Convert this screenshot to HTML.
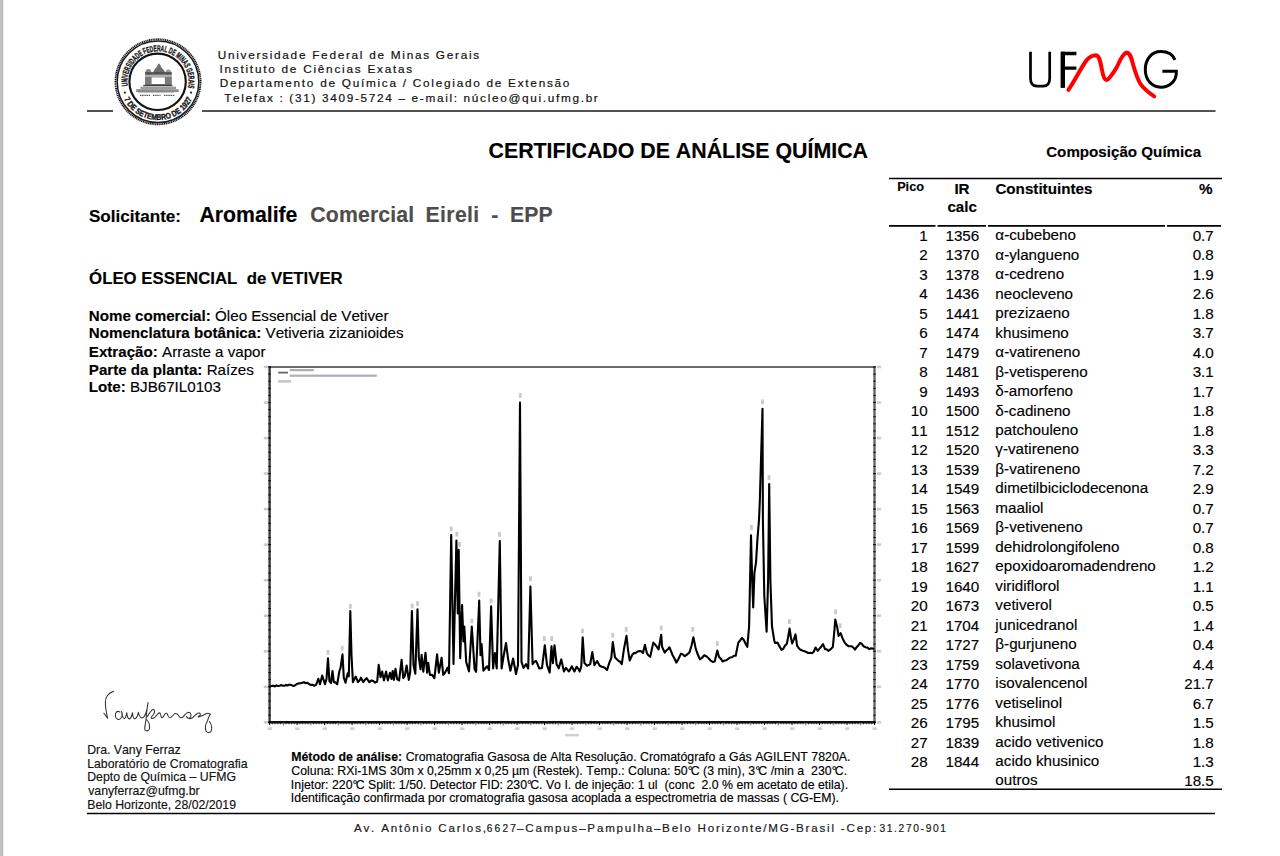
<!DOCTYPE html>
<html lang="pt"><head><meta charset="utf-8"><title>Certificado de Análise Química</title>
<style>
html,body{margin:0;padding:0;background:#fff;}
body{width:1280px;height:856px;overflow:hidden;position:relative;font-family:'Liberation Sans', sans-serif;color:#000;font-kerning:none;}
.t{position:absolute;white-space:pre;-webkit-text-stroke:0.15px currentColor;}
.l{position:absolute;}
.edge{position:absolute;left:0;top:0;width:3px;height:856px;background:linear-gradient(to right,#c1c1c1 0,#c1c1c1 2px,#b4b4b4 2px,#b4b4b4 3px);}
.edge2{position:absolute;left:3px;top:0;width:1px;height:856px;background:#f4f4f4;}
svg{position:absolute;left:0;top:0;}
</style></head><body>
<div class="edge"></div><div class="edge2"></div>
<svg width="1280" height="856" style="position:absolute;left:0;top:0"><line x1="87.00" y1="111.00" x2="113.00" y2="111.00" stroke="#1a1a1a" stroke-width="1.50"/><line x1="202.00" y1="111.00" x2="1215.50" y2="111.00" stroke="#1a1a1a" stroke-width="1.50"/><line x1="889.00" y1="178.60" x2="1222.00" y2="178.60" stroke="#000" stroke-width="1.50"/><line x1="889.00" y1="225.90" x2="935.50" y2="225.90" stroke="#000" stroke-width="1.60"/><line x1="937.50" y1="225.90" x2="986.00" y2="225.90" stroke="#000" stroke-width="1.60"/><line x1="988.00" y1="225.90" x2="1165.00" y2="225.90" stroke="#000" stroke-width="1.60"/><line x1="1167.00" y1="225.90" x2="1221.00" y2="225.90" stroke="#000" stroke-width="1.60"/><line x1="889.00" y1="789.20" x2="1222.00" y2="789.20" stroke="#000" stroke-width="1.50"/><line x1="87.00" y1="813.50" x2="1215.00" y2="813.50" stroke="#000" stroke-width="1.50"/></svg>
<div class="t" style="left:217.69px;top:50.00px;font-size:11.80px;line-height:11.80px;color:#111;letter-spacing:1.720px;-webkit-text-stroke:0.2px #111;">Universidade Federal de Minas Gerais</div>
<div class="t" style="left:219.51px;top:64.00px;font-size:11.80px;line-height:11.80px;color:#111;letter-spacing:1.745px;-webkit-text-stroke:0.2px #111;">Instituto de Ciências Exatas</div>
<div class="t" style="left:219.63px;top:78.00px;font-size:11.80px;line-height:11.80px;color:#111;letter-spacing:1.731px;-webkit-text-stroke:0.2px #111;">Departamento de Química / Colegiado de Extensão</div>
<div class="t" style="left:224.13px;top:93.00px;font-size:11.80px;line-height:11.80px;color:#111;letter-spacing:1.672px;-webkit-text-stroke:0.2px #111;">Telefax : (31) 3409-5724 – e-mail: núcleo@qui.ufmg.br</div>
<div class="t" style="left:488.52px;top:141.00px;font-size:21.35px;line-height:21.35px;font-weight:bold;">CERTIFICADO DE ANÁLISE QUÍMICA</div>
<div class="t" style="left:1046.18px;top:144.00px;font-size:15.16px;line-height:15.16px;font-weight:bold;">Composição Química</div>
<div class="t" style="left:88.91px;top:208.00px;font-size:17.10px;line-height:17.10px;font-weight:bold;">Solicitante:</div>
<div class="t" style="left:199.47px;top:205.00px;font-size:21.24px;line-height:21.24px;font-weight:bold;">Aromalife</div>
<div class="t" style="left:310.33px;top:205.00px;font-size:21.24px;line-height:21.24px;font-weight:bold;color:#4d4d4d;letter-spacing:0.146px;">Comercial</div>
<div class="t" style="left:425.58px;top:205.00px;font-size:21.24px;line-height:21.24px;font-weight:bold;color:#4d4d4d;letter-spacing:0.335px;">Eireli</div>
<div class="t" style="left:491.17px;top:205.00px;font-size:21.24px;line-height:21.24px;font-weight:bold;color:#4d4d4d;">-</div>
<div class="t" style="left:509.88px;top:205.00px;font-size:21.24px;line-height:21.24px;font-weight:bold;color:#4d4d4d;letter-spacing:0.123px;">EPP</div>
<div class="t" style="left:89.11px;top:271.00px;font-size:16.79px;line-height:16.79px;font-weight:bold;">ÓLEO ESSENCIAL  de VETIVER</div>
<div class="t" style="left:88.79px;top:308.00px;font-size:15.15px;line-height:15.15px;font-weight:bold;">Nome comercial:</div>
<div class="t" style="left:210.87px;top:308.00px;font-size:15.15px;line-height:15.15px;">&nbsp;Óleo&nbsp;Essencial&nbsp;de&nbsp;Vetiver</div>
<div class="t" style="left:88.79px;top:325.00px;font-size:15.15px;line-height:15.15px;font-weight:bold;">Nomenclatura botânica:</div>
<div class="t" style="left:261.36px;top:325.00px;font-size:15.15px;line-height:15.15px;">&nbsp;Vetiveria&nbsp;zizanioides</div>
<div class="t" style="left:88.79px;top:344.00px;font-size:15.15px;line-height:15.15px;font-weight:bold;">Extração:</div>
<div class="t" style="left:157.83px;top:344.00px;font-size:15.15px;line-height:15.15px;">&nbsp;Arraste&nbsp;a&nbsp;vapor</div>
<div class="t" style="left:88.79px;top:362.00px;font-size:15.15px;line-height:15.15px;font-weight:bold;">Parte da planta:</div>
<div class="t" style="left:202.44px;top:362.00px;font-size:15.15px;line-height:15.15px;">&nbsp;Raízes</div>
<div class="t" style="left:88.79px;top:379.00px;font-size:15.15px;line-height:15.15px;font-weight:bold;">Lote:</div>
<div class="t" style="left:125.81px;top:379.00px;font-size:15.15px;line-height:15.15px;">&nbsp;BJB67IL0103</div>
<div class="t" style="left:897.15px;top:181.00px;font-size:12.71px;line-height:12.71px;font-weight:bold;">Pico</div>
<div class="t" style="left:954.38px;top:181.00px;font-size:15.20px;line-height:15.20px;font-weight:bold;">IR</div>
<div class="t" style="left:947.41px;top:199.00px;font-size:15.20px;line-height:15.20px;font-weight:bold;">calc</div>
<div class="t" style="left:995.38px;top:181.00px;font-size:15.20px;line-height:15.20px;font-weight:bold;">Constituintes</div>
<div class="t" style="left:1199.09px;top:181.00px;font-size:15.20px;line-height:15.20px;font-weight:bold;">%</div>
<div class="t" style="left:927.74px;width:0;top:228.00px;font-size:15.20px;line-height:15.20px;direction:rtl;">1</div>
<div class="t" style="left:945.44px;top:228.00px;font-size:15.20px;line-height:15.20px;">1356</div>
<div class="t" style="left:995.36px;top:227.00px;font-size:15.20px;line-height:15.20px;">α-cubebeno</div>
<div class="t" style="left:1213.76px;width:0;top:228.00px;font-size:15.20px;line-height:15.20px;direction:rtl;">0.7</div>
<div class="t" style="left:927.74px;width:0;top:247.00px;font-size:15.20px;line-height:15.20px;direction:rtl;">2</div>
<div class="t" style="left:945.44px;top:247.00px;font-size:15.20px;line-height:15.20px;">1370</div>
<div class="t" style="left:995.36px;top:247.00px;font-size:15.20px;line-height:15.20px;">α-ylangueno</div>
<div class="t" style="left:1213.76px;width:0;top:247.00px;font-size:15.20px;line-height:15.20px;direction:rtl;">0.8</div>
<div class="t" style="left:927.74px;width:0;top:267.00px;font-size:15.20px;line-height:15.20px;direction:rtl;">3</div>
<div class="t" style="left:945.44px;top:267.00px;font-size:15.20px;line-height:15.20px;">1378</div>
<div class="t" style="left:995.36px;top:266.00px;font-size:15.20px;line-height:15.20px;">α-cedreno</div>
<div class="t" style="left:1213.76px;width:0;top:267.00px;font-size:15.20px;line-height:15.20px;direction:rtl;">1.9</div>
<div class="t" style="left:927.74px;width:0;top:286.00px;font-size:15.20px;line-height:15.20px;direction:rtl;">4</div>
<div class="t" style="left:945.44px;top:286.00px;font-size:15.20px;line-height:15.20px;">1436</div>
<div class="t" style="left:995.36px;top:286.00px;font-size:15.20px;line-height:15.20px;">neocleveno</div>
<div class="t" style="left:1213.76px;width:0;top:286.00px;font-size:15.20px;line-height:15.20px;direction:rtl;">2.6</div>
<div class="t" style="left:927.74px;width:0;top:306.00px;font-size:15.20px;line-height:15.20px;direction:rtl;">5</div>
<div class="t" style="left:945.44px;top:306.00px;font-size:15.20px;line-height:15.20px;">1441</div>
<div class="t" style="left:995.36px;top:305.00px;font-size:15.20px;line-height:15.20px;">prezizaeno</div>
<div class="t" style="left:1213.76px;width:0;top:306.00px;font-size:15.20px;line-height:15.20px;direction:rtl;">1.8</div>
<div class="t" style="left:927.74px;width:0;top:325.00px;font-size:15.20px;line-height:15.20px;direction:rtl;">6</div>
<div class="t" style="left:945.44px;top:325.00px;font-size:15.20px;line-height:15.20px;">1474</div>
<div class="t" style="left:995.36px;top:325.00px;font-size:15.20px;line-height:15.20px;">khusimeno</div>
<div class="t" style="left:1213.76px;width:0;top:325.00px;font-size:15.20px;line-height:15.20px;direction:rtl;">3.7</div>
<div class="t" style="left:927.74px;width:0;top:345.00px;font-size:15.20px;line-height:15.20px;direction:rtl;">7</div>
<div class="t" style="left:945.44px;top:345.00px;font-size:15.20px;line-height:15.20px;">1479</div>
<div class="t" style="left:995.36px;top:344.00px;font-size:15.20px;line-height:15.20px;">α-vatireneno</div>
<div class="t" style="left:1213.76px;width:0;top:345.00px;font-size:15.20px;line-height:15.20px;direction:rtl;">4.0</div>
<div class="t" style="left:927.74px;width:0;top:364.00px;font-size:15.20px;line-height:15.20px;direction:rtl;">8</div>
<div class="t" style="left:945.44px;top:364.00px;font-size:15.20px;line-height:15.20px;">1481</div>
<div class="t" style="left:995.36px;top:364.00px;font-size:15.20px;line-height:15.20px;">β-vetispereno</div>
<div class="t" style="left:1213.76px;width:0;top:364.00px;font-size:15.20px;line-height:15.20px;direction:rtl;">3.1</div>
<div class="t" style="left:927.74px;width:0;top:384.00px;font-size:15.20px;line-height:15.20px;direction:rtl;">9</div>
<div class="t" style="left:945.44px;top:384.00px;font-size:15.20px;line-height:15.20px;">1493</div>
<div class="t" style="left:995.36px;top:383.00px;font-size:15.20px;line-height:15.20px;">δ-amorfeno</div>
<div class="t" style="left:1213.76px;width:0;top:384.00px;font-size:15.20px;line-height:15.20px;direction:rtl;">1.7</div>
<div class="t" style="left:927.74px;width:0;top:403.00px;font-size:15.20px;line-height:15.20px;direction:rtl;">10</div>
<div class="t" style="left:945.44px;top:403.00px;font-size:15.20px;line-height:15.20px;">1500</div>
<div class="t" style="left:995.36px;top:403.00px;font-size:15.20px;line-height:15.20px;">δ-cadineno</div>
<div class="t" style="left:1213.76px;width:0;top:403.00px;font-size:15.20px;line-height:15.20px;direction:rtl;">1.8</div>
<div class="t" style="left:927.74px;width:0;top:423.00px;font-size:15.20px;line-height:15.20px;direction:rtl;">11</div>
<div class="t" style="left:945.44px;top:423.00px;font-size:15.20px;line-height:15.20px;">1512</div>
<div class="t" style="left:995.36px;top:422.00px;font-size:15.20px;line-height:15.20px;">patchouleno</div>
<div class="t" style="left:1213.76px;width:0;top:423.00px;font-size:15.20px;line-height:15.20px;direction:rtl;">1.8</div>
<div class="t" style="left:927.74px;width:0;top:442.00px;font-size:15.20px;line-height:15.20px;direction:rtl;">12</div>
<div class="t" style="left:945.44px;top:442.00px;font-size:15.20px;line-height:15.20px;">1520</div>
<div class="t" style="left:995.36px;top:441.00px;font-size:15.20px;line-height:15.20px;">γ-vatireneno</div>
<div class="t" style="left:1213.76px;width:0;top:442.00px;font-size:15.20px;line-height:15.20px;direction:rtl;">3.3</div>
<div class="t" style="left:927.74px;width:0;top:462.00px;font-size:15.20px;line-height:15.20px;direction:rtl;">13</div>
<div class="t" style="left:945.44px;top:462.00px;font-size:15.20px;line-height:15.20px;">1539</div>
<div class="t" style="left:995.36px;top:461.00px;font-size:15.20px;line-height:15.20px;">β-vatireneno</div>
<div class="t" style="left:1213.76px;width:0;top:462.00px;font-size:15.20px;line-height:15.20px;direction:rtl;">7.2</div>
<div class="t" style="left:927.74px;width:0;top:481.00px;font-size:15.20px;line-height:15.20px;direction:rtl;">14</div>
<div class="t" style="left:945.44px;top:481.00px;font-size:15.20px;line-height:15.20px;">1549</div>
<div class="t" style="left:995.36px;top:480.00px;font-size:15.20px;line-height:15.20px;">dimetilbiciclodecenona</div>
<div class="t" style="left:1213.76px;width:0;top:481.00px;font-size:15.20px;line-height:15.20px;direction:rtl;">2.9</div>
<div class="t" style="left:927.74px;width:0;top:501.00px;font-size:15.20px;line-height:15.20px;direction:rtl;">15</div>
<div class="t" style="left:945.44px;top:501.00px;font-size:15.20px;line-height:15.20px;">1563</div>
<div class="t" style="left:995.36px;top:500.00px;font-size:15.20px;line-height:15.20px;">maaliol</div>
<div class="t" style="left:1213.76px;width:0;top:501.00px;font-size:15.20px;line-height:15.20px;direction:rtl;">0.7</div>
<div class="t" style="left:927.74px;width:0;top:520.00px;font-size:15.20px;line-height:15.20px;direction:rtl;">16</div>
<div class="t" style="left:945.44px;top:520.00px;font-size:15.20px;line-height:15.20px;">1569</div>
<div class="t" style="left:995.36px;top:519.00px;font-size:15.20px;line-height:15.20px;">β-vetiveneno</div>
<div class="t" style="left:1213.76px;width:0;top:520.00px;font-size:15.20px;line-height:15.20px;direction:rtl;">0.7</div>
<div class="t" style="left:927.74px;width:0;top:540.00px;font-size:15.20px;line-height:15.20px;direction:rtl;">17</div>
<div class="t" style="left:945.44px;top:540.00px;font-size:15.20px;line-height:15.20px;">1599</div>
<div class="t" style="left:995.36px;top:539.00px;font-size:15.20px;line-height:15.20px;">dehidrolongifoleno</div>
<div class="t" style="left:1213.76px;width:0;top:540.00px;font-size:15.20px;line-height:15.20px;direction:rtl;">0.8</div>
<div class="t" style="left:927.74px;width:0;top:559.00px;font-size:15.20px;line-height:15.20px;direction:rtl;">18</div>
<div class="t" style="left:945.44px;top:559.00px;font-size:15.20px;line-height:15.20px;">1627</div>
<div class="t" style="left:995.36px;top:558.00px;font-size:15.20px;line-height:15.20px;">epoxidoaromadendreno</div>
<div class="t" style="left:1213.76px;width:0;top:559.00px;font-size:15.20px;line-height:15.20px;direction:rtl;">1.2</div>
<div class="t" style="left:927.74px;width:0;top:579.00px;font-size:15.20px;line-height:15.20px;direction:rtl;">19</div>
<div class="t" style="left:945.44px;top:579.00px;font-size:15.20px;line-height:15.20px;">1640</div>
<div class="t" style="left:995.36px;top:578.00px;font-size:15.20px;line-height:15.20px;">viridiflorol</div>
<div class="t" style="left:1213.76px;width:0;top:579.00px;font-size:15.20px;line-height:15.20px;direction:rtl;">1.1</div>
<div class="t" style="left:927.74px;width:0;top:598.00px;font-size:15.20px;line-height:15.20px;direction:rtl;">20</div>
<div class="t" style="left:945.44px;top:598.00px;font-size:15.20px;line-height:15.20px;">1673</div>
<div class="t" style="left:995.36px;top:597.00px;font-size:15.20px;line-height:15.20px;">vetiverol</div>
<div class="t" style="left:1213.76px;width:0;top:598.00px;font-size:15.20px;line-height:15.20px;direction:rtl;">0.5</div>
<div class="t" style="left:927.74px;width:0;top:618.00px;font-size:15.20px;line-height:15.20px;direction:rtl;">21</div>
<div class="t" style="left:945.44px;top:618.00px;font-size:15.20px;line-height:15.20px;">1704</div>
<div class="t" style="left:995.36px;top:617.00px;font-size:15.20px;line-height:15.20px;">junicedranol</div>
<div class="t" style="left:1213.76px;width:0;top:618.00px;font-size:15.20px;line-height:15.20px;direction:rtl;">1.4</div>
<div class="t" style="left:927.74px;width:0;top:637.00px;font-size:15.20px;line-height:15.20px;direction:rtl;">22</div>
<div class="t" style="left:945.44px;top:637.00px;font-size:15.20px;line-height:15.20px;">1727</div>
<div class="t" style="left:995.36px;top:636.00px;font-size:15.20px;line-height:15.20px;">β-gurjuneno</div>
<div class="t" style="left:1213.76px;width:0;top:637.00px;font-size:15.20px;line-height:15.20px;direction:rtl;">0.4</div>
<div class="t" style="left:927.74px;width:0;top:657.00px;font-size:15.20px;line-height:15.20px;direction:rtl;">23</div>
<div class="t" style="left:945.44px;top:657.00px;font-size:15.20px;line-height:15.20px;">1759</div>
<div class="t" style="left:995.36px;top:656.00px;font-size:15.20px;line-height:15.20px;">solavetivona</div>
<div class="t" style="left:1213.76px;width:0;top:657.00px;font-size:15.20px;line-height:15.20px;direction:rtl;">4.4</div>
<div class="t" style="left:927.74px;width:0;top:676.00px;font-size:15.20px;line-height:15.20px;direction:rtl;">24</div>
<div class="t" style="left:945.44px;top:676.00px;font-size:15.20px;line-height:15.20px;">1770</div>
<div class="t" style="left:995.36px;top:675.00px;font-size:15.20px;line-height:15.20px;">isovalencenol</div>
<div class="t" style="left:1213.76px;width:0;top:676.00px;font-size:15.20px;line-height:15.20px;direction:rtl;">21.7</div>
<div class="t" style="left:927.74px;width:0;top:696.00px;font-size:15.20px;line-height:15.20px;direction:rtl;">25</div>
<div class="t" style="left:945.44px;top:696.00px;font-size:15.20px;line-height:15.20px;">1776</div>
<div class="t" style="left:995.36px;top:695.00px;font-size:15.20px;line-height:15.20px;">vetiselinol</div>
<div class="t" style="left:1213.76px;width:0;top:696.00px;font-size:15.20px;line-height:15.20px;direction:rtl;">6.7</div>
<div class="t" style="left:927.74px;width:0;top:715.00px;font-size:15.20px;line-height:15.20px;direction:rtl;">26</div>
<div class="t" style="left:945.44px;top:715.00px;font-size:15.20px;line-height:15.20px;">1795</div>
<div class="t" style="left:995.36px;top:714.00px;font-size:15.20px;line-height:15.20px;">khusimol</div>
<div class="t" style="left:1213.76px;width:0;top:715.00px;font-size:15.20px;line-height:15.20px;direction:rtl;">1.5</div>
<div class="t" style="left:927.74px;width:0;top:735.00px;font-size:15.20px;line-height:15.20px;direction:rtl;">27</div>
<div class="t" style="left:945.44px;top:735.00px;font-size:15.20px;line-height:15.20px;">1839</div>
<div class="t" style="left:995.36px;top:734.00px;font-size:15.20px;line-height:15.20px;">acido vetivenico</div>
<div class="t" style="left:1213.76px;width:0;top:735.00px;font-size:15.20px;line-height:15.20px;direction:rtl;">1.8</div>
<div class="t" style="left:927.74px;width:0;top:754.00px;font-size:15.20px;line-height:15.20px;direction:rtl;">28</div>
<div class="t" style="left:945.44px;top:754.00px;font-size:15.20px;line-height:15.20px;">1844</div>
<div class="t" style="left:995.36px;top:753.00px;font-size:15.20px;line-height:15.20px;">acido khusinico</div>
<div class="t" style="left:1213.76px;width:0;top:754.00px;font-size:15.20px;line-height:15.20px;direction:rtl;">1.3</div>
<div class="t" style="left:995.36px;top:772.00px;font-size:15.20px;line-height:15.20px;">outros</div>
<div class="t" style="left:1213.76px;width:0;top:773.00px;font-size:15.20px;line-height:15.20px;direction:rtl;">18.5</div>
<div class="t" style="left:87.19px;top:744.00px;font-size:12.29px;line-height:12.29px;color:#111;">Dra. Vany Ferraz</div>
<div class="t" style="left:87.19px;top:758.00px;font-size:12.29px;line-height:12.29px;color:#111;">Laboratório de Cromatografia</div>
<div class="t" style="left:87.19px;top:771.00px;font-size:12.29px;line-height:12.29px;color:#111;">Depto de Química – UFMG</div>
<div class="t" style="left:88.16px;top:785.00px;font-size:12.29px;line-height:12.29px;color:#111;">vanyferraz@ufmg.br</div>
<div class="t" style="left:87.19px;top:799.00px;font-size:12.29px;line-height:12.29px;color:#111;">Belo Horizonte, 28/02/2019</div>
<div class="t" style="left:291.17px;top:751.00px;font-size:12.34px;line-height:12.34px;font-weight:bold;">Método de análise:</div>
<div class="t" style="left:402.25px;top:751.00px;font-size:12.34px;line-height:12.34px;">&nbsp;Cromatografia&nbsp;Gasosa&nbsp;de&nbsp;Alta&nbsp;Resolução.&nbsp;Cromatógrafo&nbsp;a&nbsp;Gás&nbsp;AGILENT&nbsp;7820A.</div>
<div class="t" style="left:291.37px;top:765.00px;font-size:12.34px;line-height:12.34px;">Coluna: RXi-1MS 30m x 0,25mm x 0,25 µm (Restek). Temp.: Coluna: 50<span style="letter-spacing:-1.8px">°</span>C (3 min), 3<span style="letter-spacing:-1.8px">°</span>C /min a  230<span style="letter-spacing:-1.8px">°</span>C.</div>
<div class="t" style="left:290.86px;top:779.00px;font-size:12.34px;line-height:12.34px;">Injetor: 220<span style="letter-spacing:-1.8px">°</span>C Split: 1/50. Detector FID: 230<span style="letter-spacing:-1.8px">°</span>C. Vo I. de injeção: 1 ul  (conc  2.0 % em acetato de etila).</div>
<div class="t" style="left:290.86px;top:792.00px;font-size:12.34px;line-height:12.34px;">Identificação confirmada por cromatografia gasosa acoplada a espectrometria de massas ( CG-EM).</div>
<div class="t" style="left:353.88px;top:822.00px;font-size:11.60px;line-height:11.60px;color:#1a1a1a;letter-spacing:1.826px;-webkit-text-stroke:0.2px #1a1a1a;">Av. Antônio Carlos,</div>
<div class="t" style="left:486.78px;top:824.00px;font-size:10.20px;line-height:10.20px;color:#1a1a1a;letter-spacing:2.180px;-webkit-text-stroke:0.2px #1a1a1a;">6627</div>
<div class="t" style="left:517.00px;top:822.00px;font-size:11.60px;line-height:11.60px;color:#1a1a1a;letter-spacing:1.788px;-webkit-text-stroke:0.2px #1a1a1a;">–Campus–Pampulha–Belo Horizonte/MG-Brasil -Cep:</div>
<div class="t" style="left:879.41px;top:824.00px;font-size:10.20px;line-height:10.20px;color:#1a1a1a;letter-spacing:1.675px;-webkit-text-stroke:0.2px #1a1a1a;">31.270-901</div>
<svg width="1280" height="856" viewBox="0 0 1280 856" style="position:absolute;left:0;top:0">
<line x1="269.60" y1="367.00" x2="874.50" y2="367.00" stroke="#6b6b6b" stroke-width="2.2"/>
<line x1="269.60" y1="366.00" x2="269.60" y2="723.30" stroke="#3a3a3a" stroke-width="2.4"/>
<line x1="874.50" y1="366.00" x2="874.50" y2="723.30" stroke="#666" stroke-width="2.4"/>
<line x1="268.60" y1="722.30" x2="875.50" y2="722.30" stroke="#111" stroke-width="2.5"/>
<line x1="268.30" y1="722.30" x2="270.90" y2="722.30" stroke="#000" stroke-width="1.2"/>
<line x1="873.20" y1="722.30" x2="875.80" y2="722.30" stroke="#000" stroke-width="1.2"/>
<line x1="268.30" y1="715.19" x2="270.90" y2="715.19" stroke="#000" stroke-width="0.9"/>
<line x1="873.20" y1="715.19" x2="875.80" y2="715.19" stroke="#000" stroke-width="0.9"/>
<line x1="268.30" y1="708.09" x2="270.90" y2="708.09" stroke="#000" stroke-width="0.9"/>
<line x1="873.20" y1="708.09" x2="875.80" y2="708.09" stroke="#000" stroke-width="0.9"/>
<line x1="268.30" y1="700.98" x2="270.90" y2="700.98" stroke="#000" stroke-width="0.9"/>
<line x1="873.20" y1="700.98" x2="875.80" y2="700.98" stroke="#000" stroke-width="0.9"/>
<line x1="268.30" y1="693.88" x2="270.90" y2="693.88" stroke="#000" stroke-width="0.9"/>
<line x1="873.20" y1="693.88" x2="875.80" y2="693.88" stroke="#000" stroke-width="0.9"/>
<line x1="268.30" y1="686.77" x2="270.90" y2="686.77" stroke="#000" stroke-width="1.2"/>
<line x1="873.20" y1="686.77" x2="875.80" y2="686.77" stroke="#000" stroke-width="1.2"/>
<line x1="268.30" y1="679.66" x2="270.90" y2="679.66" stroke="#000" stroke-width="0.9"/>
<line x1="873.20" y1="679.66" x2="875.80" y2="679.66" stroke="#000" stroke-width="0.9"/>
<line x1="268.30" y1="672.56" x2="270.90" y2="672.56" stroke="#000" stroke-width="0.9"/>
<line x1="873.20" y1="672.56" x2="875.80" y2="672.56" stroke="#000" stroke-width="0.9"/>
<line x1="268.30" y1="665.45" x2="270.90" y2="665.45" stroke="#000" stroke-width="0.9"/>
<line x1="873.20" y1="665.45" x2="875.80" y2="665.45" stroke="#000" stroke-width="0.9"/>
<line x1="268.30" y1="658.35" x2="270.90" y2="658.35" stroke="#000" stroke-width="0.9"/>
<line x1="873.20" y1="658.35" x2="875.80" y2="658.35" stroke="#000" stroke-width="0.9"/>
<line x1="268.30" y1="651.24" x2="270.90" y2="651.24" stroke="#000" stroke-width="1.2"/>
<line x1="873.20" y1="651.24" x2="875.80" y2="651.24" stroke="#000" stroke-width="1.2"/>
<line x1="268.30" y1="644.13" x2="270.90" y2="644.13" stroke="#000" stroke-width="0.9"/>
<line x1="873.20" y1="644.13" x2="875.80" y2="644.13" stroke="#000" stroke-width="0.9"/>
<line x1="268.30" y1="637.03" x2="270.90" y2="637.03" stroke="#000" stroke-width="0.9"/>
<line x1="873.20" y1="637.03" x2="875.80" y2="637.03" stroke="#000" stroke-width="0.9"/>
<line x1="268.30" y1="629.92" x2="270.90" y2="629.92" stroke="#000" stroke-width="0.9"/>
<line x1="873.20" y1="629.92" x2="875.80" y2="629.92" stroke="#000" stroke-width="0.9"/>
<line x1="268.30" y1="622.82" x2="270.90" y2="622.82" stroke="#000" stroke-width="0.9"/>
<line x1="873.20" y1="622.82" x2="875.80" y2="622.82" stroke="#000" stroke-width="0.9"/>
<line x1="268.30" y1="615.71" x2="270.90" y2="615.71" stroke="#000" stroke-width="1.2"/>
<line x1="873.20" y1="615.71" x2="875.80" y2="615.71" stroke="#000" stroke-width="1.2"/>
<line x1="268.30" y1="608.60" x2="270.90" y2="608.60" stroke="#000" stroke-width="0.9"/>
<line x1="873.20" y1="608.60" x2="875.80" y2="608.60" stroke="#000" stroke-width="0.9"/>
<line x1="268.30" y1="601.50" x2="270.90" y2="601.50" stroke="#000" stroke-width="0.9"/>
<line x1="873.20" y1="601.50" x2="875.80" y2="601.50" stroke="#000" stroke-width="0.9"/>
<line x1="268.30" y1="594.39" x2="270.90" y2="594.39" stroke="#000" stroke-width="0.9"/>
<line x1="873.20" y1="594.39" x2="875.80" y2="594.39" stroke="#000" stroke-width="0.9"/>
<line x1="268.30" y1="587.29" x2="270.90" y2="587.29" stroke="#000" stroke-width="0.9"/>
<line x1="873.20" y1="587.29" x2="875.80" y2="587.29" stroke="#000" stroke-width="0.9"/>
<line x1="268.30" y1="580.18" x2="270.90" y2="580.18" stroke="#000" stroke-width="1.2"/>
<line x1="873.20" y1="580.18" x2="875.80" y2="580.18" stroke="#000" stroke-width="1.2"/>
<line x1="268.30" y1="573.07" x2="270.90" y2="573.07" stroke="#000" stroke-width="0.9"/>
<line x1="873.20" y1="573.07" x2="875.80" y2="573.07" stroke="#000" stroke-width="0.9"/>
<line x1="268.30" y1="565.97" x2="270.90" y2="565.97" stroke="#000" stroke-width="0.9"/>
<line x1="873.20" y1="565.97" x2="875.80" y2="565.97" stroke="#000" stroke-width="0.9"/>
<line x1="268.30" y1="558.86" x2="270.90" y2="558.86" stroke="#000" stroke-width="0.9"/>
<line x1="873.20" y1="558.86" x2="875.80" y2="558.86" stroke="#000" stroke-width="0.9"/>
<line x1="268.30" y1="551.76" x2="270.90" y2="551.76" stroke="#000" stroke-width="0.9"/>
<line x1="873.20" y1="551.76" x2="875.80" y2="551.76" stroke="#000" stroke-width="0.9"/>
<line x1="268.30" y1="544.65" x2="270.90" y2="544.65" stroke="#000" stroke-width="1.2"/>
<line x1="873.20" y1="544.65" x2="875.80" y2="544.65" stroke="#000" stroke-width="1.2"/>
<line x1="268.30" y1="537.54" x2="270.90" y2="537.54" stroke="#000" stroke-width="0.9"/>
<line x1="873.20" y1="537.54" x2="875.80" y2="537.54" stroke="#000" stroke-width="0.9"/>
<line x1="268.30" y1="530.44" x2="270.90" y2="530.44" stroke="#000" stroke-width="0.9"/>
<line x1="873.20" y1="530.44" x2="875.80" y2="530.44" stroke="#000" stroke-width="0.9"/>
<line x1="268.30" y1="523.33" x2="270.90" y2="523.33" stroke="#000" stroke-width="0.9"/>
<line x1="873.20" y1="523.33" x2="875.80" y2="523.33" stroke="#000" stroke-width="0.9"/>
<line x1="268.30" y1="516.23" x2="270.90" y2="516.23" stroke="#000" stroke-width="0.9"/>
<line x1="873.20" y1="516.23" x2="875.80" y2="516.23" stroke="#000" stroke-width="0.9"/>
<line x1="268.30" y1="509.12" x2="270.90" y2="509.12" stroke="#000" stroke-width="1.2"/>
<line x1="873.20" y1="509.12" x2="875.80" y2="509.12" stroke="#000" stroke-width="1.2"/>
<line x1="268.30" y1="502.01" x2="270.90" y2="502.01" stroke="#000" stroke-width="0.9"/>
<line x1="873.20" y1="502.01" x2="875.80" y2="502.01" stroke="#000" stroke-width="0.9"/>
<line x1="268.30" y1="494.91" x2="270.90" y2="494.91" stroke="#000" stroke-width="0.9"/>
<line x1="873.20" y1="494.91" x2="875.80" y2="494.91" stroke="#000" stroke-width="0.9"/>
<line x1="268.30" y1="487.80" x2="270.90" y2="487.80" stroke="#000" stroke-width="0.9"/>
<line x1="873.20" y1="487.80" x2="875.80" y2="487.80" stroke="#000" stroke-width="0.9"/>
<line x1="268.30" y1="480.70" x2="270.90" y2="480.70" stroke="#000" stroke-width="0.9"/>
<line x1="873.20" y1="480.70" x2="875.80" y2="480.70" stroke="#000" stroke-width="0.9"/>
<line x1="268.30" y1="473.59" x2="270.90" y2="473.59" stroke="#000" stroke-width="1.2"/>
<line x1="873.20" y1="473.59" x2="875.80" y2="473.59" stroke="#000" stroke-width="1.2"/>
<line x1="268.30" y1="466.48" x2="270.90" y2="466.48" stroke="#000" stroke-width="0.9"/>
<line x1="873.20" y1="466.48" x2="875.80" y2="466.48" stroke="#000" stroke-width="0.9"/>
<line x1="268.30" y1="459.38" x2="270.90" y2="459.38" stroke="#000" stroke-width="0.9"/>
<line x1="873.20" y1="459.38" x2="875.80" y2="459.38" stroke="#000" stroke-width="0.9"/>
<line x1="268.30" y1="452.27" x2="270.90" y2="452.27" stroke="#000" stroke-width="0.9"/>
<line x1="873.20" y1="452.27" x2="875.80" y2="452.27" stroke="#000" stroke-width="0.9"/>
<line x1="268.30" y1="445.17" x2="270.90" y2="445.17" stroke="#000" stroke-width="0.9"/>
<line x1="873.20" y1="445.17" x2="875.80" y2="445.17" stroke="#000" stroke-width="0.9"/>
<line x1="268.30" y1="438.06" x2="270.90" y2="438.06" stroke="#000" stroke-width="1.2"/>
<line x1="873.20" y1="438.06" x2="875.80" y2="438.06" stroke="#000" stroke-width="1.2"/>
<line x1="268.30" y1="430.95" x2="270.90" y2="430.95" stroke="#000" stroke-width="0.9"/>
<line x1="873.20" y1="430.95" x2="875.80" y2="430.95" stroke="#000" stroke-width="0.9"/>
<line x1="268.30" y1="423.85" x2="270.90" y2="423.85" stroke="#000" stroke-width="0.9"/>
<line x1="873.20" y1="423.85" x2="875.80" y2="423.85" stroke="#000" stroke-width="0.9"/>
<line x1="268.30" y1="416.74" x2="270.90" y2="416.74" stroke="#000" stroke-width="0.9"/>
<line x1="873.20" y1="416.74" x2="875.80" y2="416.74" stroke="#000" stroke-width="0.9"/>
<line x1="268.30" y1="409.64" x2="270.90" y2="409.64" stroke="#000" stroke-width="0.9"/>
<line x1="873.20" y1="409.64" x2="875.80" y2="409.64" stroke="#000" stroke-width="0.9"/>
<line x1="268.30" y1="402.53" x2="270.90" y2="402.53" stroke="#000" stroke-width="1.2"/>
<line x1="873.20" y1="402.53" x2="875.80" y2="402.53" stroke="#000" stroke-width="1.2"/>
<line x1="268.30" y1="395.42" x2="270.90" y2="395.42" stroke="#000" stroke-width="0.9"/>
<line x1="873.20" y1="395.42" x2="875.80" y2="395.42" stroke="#000" stroke-width="0.9"/>
<line x1="268.30" y1="388.32" x2="270.90" y2="388.32" stroke="#000" stroke-width="0.9"/>
<line x1="873.20" y1="388.32" x2="875.80" y2="388.32" stroke="#000" stroke-width="0.9"/>
<line x1="268.30" y1="381.21" x2="270.90" y2="381.21" stroke="#000" stroke-width="0.9"/>
<line x1="873.20" y1="381.21" x2="875.80" y2="381.21" stroke="#000" stroke-width="0.9"/>
<line x1="268.30" y1="374.11" x2="270.90" y2="374.11" stroke="#000" stroke-width="0.9"/>
<line x1="873.20" y1="374.11" x2="875.80" y2="374.11" stroke="#000" stroke-width="0.9"/>
<line x1="268.30" y1="367.00" x2="270.90" y2="367.00" stroke="#000" stroke-width="1.2"/>
<line x1="873.20" y1="367.00" x2="875.80" y2="367.00" stroke="#000" stroke-width="1.2"/>
<line x1="269.60" y1="722.30" x2="269.60" y2="725.10" stroke="#000" stroke-width="1"/>
<line x1="272.35" y1="722.30" x2="272.35" y2="724.30" stroke="#000" stroke-width="0.7"/>
<line x1="275.10" y1="722.30" x2="275.10" y2="724.30" stroke="#000" stroke-width="0.7"/>
<line x1="277.85" y1="722.30" x2="277.85" y2="724.30" stroke="#000" stroke-width="0.7"/>
<line x1="280.60" y1="722.30" x2="280.60" y2="724.30" stroke="#000" stroke-width="0.7"/>
<line x1="283.35" y1="722.30" x2="283.35" y2="725.50" stroke="#555" stroke-width="0.8"/>
<line x1="286.10" y1="722.30" x2="286.10" y2="724.30" stroke="#000" stroke-width="0.7"/>
<line x1="288.85" y1="722.30" x2="288.85" y2="724.30" stroke="#000" stroke-width="0.7"/>
<line x1="291.60" y1="722.30" x2="291.60" y2="724.30" stroke="#000" stroke-width="0.7"/>
<line x1="294.35" y1="722.30" x2="294.35" y2="724.30" stroke="#000" stroke-width="0.7"/>
<line x1="297.10" y1="722.30" x2="297.10" y2="725.10" stroke="#000" stroke-width="1"/>
<line x1="299.85" y1="722.30" x2="299.85" y2="724.30" stroke="#000" stroke-width="0.7"/>
<line x1="302.59" y1="722.30" x2="302.59" y2="724.30" stroke="#000" stroke-width="0.7"/>
<line x1="305.34" y1="722.30" x2="305.34" y2="724.30" stroke="#000" stroke-width="0.7"/>
<line x1="308.09" y1="722.30" x2="308.09" y2="724.30" stroke="#000" stroke-width="0.7"/>
<line x1="310.84" y1="722.30" x2="310.84" y2="725.50" stroke="#555" stroke-width="0.8"/>
<line x1="313.59" y1="722.30" x2="313.59" y2="724.30" stroke="#000" stroke-width="0.7"/>
<line x1="316.34" y1="722.30" x2="316.34" y2="724.30" stroke="#000" stroke-width="0.7"/>
<line x1="319.09" y1="722.30" x2="319.09" y2="724.30" stroke="#000" stroke-width="0.7"/>
<line x1="321.84" y1="722.30" x2="321.84" y2="724.30" stroke="#000" stroke-width="0.7"/>
<line x1="324.59" y1="722.30" x2="324.59" y2="725.10" stroke="#000" stroke-width="1"/>
<line x1="327.34" y1="722.30" x2="327.34" y2="724.30" stroke="#000" stroke-width="0.7"/>
<line x1="330.09" y1="722.30" x2="330.09" y2="724.30" stroke="#000" stroke-width="0.7"/>
<line x1="332.84" y1="722.30" x2="332.84" y2="724.30" stroke="#000" stroke-width="0.7"/>
<line x1="335.59" y1="722.30" x2="335.59" y2="724.30" stroke="#000" stroke-width="0.7"/>
<line x1="338.34" y1="722.30" x2="338.34" y2="725.50" stroke="#555" stroke-width="0.8"/>
<line x1="341.09" y1="722.30" x2="341.09" y2="724.30" stroke="#000" stroke-width="0.7"/>
<line x1="343.84" y1="722.30" x2="343.84" y2="724.30" stroke="#000" stroke-width="0.7"/>
<line x1="346.59" y1="722.30" x2="346.59" y2="724.30" stroke="#000" stroke-width="0.7"/>
<line x1="349.34" y1="722.30" x2="349.34" y2="724.30" stroke="#000" stroke-width="0.7"/>
<line x1="352.09" y1="722.30" x2="352.09" y2="725.10" stroke="#000" stroke-width="1"/>
<line x1="354.84" y1="722.30" x2="354.84" y2="724.30" stroke="#000" stroke-width="0.7"/>
<line x1="357.59" y1="722.30" x2="357.59" y2="724.30" stroke="#000" stroke-width="0.7"/>
<line x1="360.34" y1="722.30" x2="360.34" y2="724.30" stroke="#000" stroke-width="0.7"/>
<line x1="363.08" y1="722.30" x2="363.08" y2="724.30" stroke="#000" stroke-width="0.7"/>
<line x1="365.83" y1="722.30" x2="365.83" y2="725.50" stroke="#555" stroke-width="0.8"/>
<line x1="368.58" y1="722.30" x2="368.58" y2="724.30" stroke="#000" stroke-width="0.7"/>
<line x1="371.33" y1="722.30" x2="371.33" y2="724.30" stroke="#000" stroke-width="0.7"/>
<line x1="374.08" y1="722.30" x2="374.08" y2="724.30" stroke="#000" stroke-width="0.7"/>
<line x1="376.83" y1="722.30" x2="376.83" y2="724.30" stroke="#000" stroke-width="0.7"/>
<line x1="379.58" y1="722.30" x2="379.58" y2="725.10" stroke="#000" stroke-width="1"/>
<line x1="382.33" y1="722.30" x2="382.33" y2="724.30" stroke="#000" stroke-width="0.7"/>
<line x1="385.08" y1="722.30" x2="385.08" y2="724.30" stroke="#000" stroke-width="0.7"/>
<line x1="387.83" y1="722.30" x2="387.83" y2="724.30" stroke="#000" stroke-width="0.7"/>
<line x1="390.58" y1="722.30" x2="390.58" y2="724.30" stroke="#000" stroke-width="0.7"/>
<line x1="393.33" y1="722.30" x2="393.33" y2="725.50" stroke="#555" stroke-width="0.8"/>
<line x1="396.08" y1="722.30" x2="396.08" y2="724.30" stroke="#000" stroke-width="0.7"/>
<line x1="398.83" y1="722.30" x2="398.83" y2="724.30" stroke="#000" stroke-width="0.7"/>
<line x1="401.58" y1="722.30" x2="401.58" y2="724.30" stroke="#000" stroke-width="0.7"/>
<line x1="404.33" y1="722.30" x2="404.33" y2="724.30" stroke="#000" stroke-width="0.7"/>
<line x1="407.08" y1="722.30" x2="407.08" y2="725.10" stroke="#000" stroke-width="1"/>
<line x1="409.83" y1="722.30" x2="409.83" y2="724.30" stroke="#000" stroke-width="0.7"/>
<line x1="412.58" y1="722.30" x2="412.58" y2="724.30" stroke="#000" stroke-width="0.7"/>
<line x1="415.33" y1="722.30" x2="415.33" y2="724.30" stroke="#000" stroke-width="0.7"/>
<line x1="418.08" y1="722.30" x2="418.08" y2="724.30" stroke="#000" stroke-width="0.7"/>
<line x1="420.83" y1="722.30" x2="420.83" y2="725.50" stroke="#555" stroke-width="0.8"/>
<line x1="423.57" y1="722.30" x2="423.57" y2="724.30" stroke="#000" stroke-width="0.7"/>
<line x1="426.32" y1="722.30" x2="426.32" y2="724.30" stroke="#000" stroke-width="0.7"/>
<line x1="429.07" y1="722.30" x2="429.07" y2="724.30" stroke="#000" stroke-width="0.7"/>
<line x1="431.82" y1="722.30" x2="431.82" y2="724.30" stroke="#000" stroke-width="0.7"/>
<line x1="434.57" y1="722.30" x2="434.57" y2="725.10" stroke="#000" stroke-width="1"/>
<line x1="437.32" y1="722.30" x2="437.32" y2="724.30" stroke="#000" stroke-width="0.7"/>
<line x1="440.07" y1="722.30" x2="440.07" y2="724.30" stroke="#000" stroke-width="0.7"/>
<line x1="442.82" y1="722.30" x2="442.82" y2="724.30" stroke="#000" stroke-width="0.7"/>
<line x1="445.57" y1="722.30" x2="445.57" y2="724.30" stroke="#000" stroke-width="0.7"/>
<line x1="448.32" y1="722.30" x2="448.32" y2="725.50" stroke="#555" stroke-width="0.8"/>
<line x1="451.07" y1="722.30" x2="451.07" y2="724.30" stroke="#000" stroke-width="0.7"/>
<line x1="453.82" y1="722.30" x2="453.82" y2="724.30" stroke="#000" stroke-width="0.7"/>
<line x1="456.57" y1="722.30" x2="456.57" y2="724.30" stroke="#000" stroke-width="0.7"/>
<line x1="459.32" y1="722.30" x2="459.32" y2="724.30" stroke="#000" stroke-width="0.7"/>
<line x1="462.07" y1="722.30" x2="462.07" y2="725.10" stroke="#000" stroke-width="1"/>
<line x1="464.82" y1="722.30" x2="464.82" y2="724.30" stroke="#000" stroke-width="0.7"/>
<line x1="467.57" y1="722.30" x2="467.57" y2="724.30" stroke="#000" stroke-width="0.7"/>
<line x1="470.32" y1="722.30" x2="470.32" y2="724.30" stroke="#000" stroke-width="0.7"/>
<line x1="473.07" y1="722.30" x2="473.07" y2="724.30" stroke="#000" stroke-width="0.7"/>
<line x1="475.82" y1="722.30" x2="475.82" y2="725.50" stroke="#555" stroke-width="0.8"/>
<line x1="478.57" y1="722.30" x2="478.57" y2="724.30" stroke="#000" stroke-width="0.7"/>
<line x1="481.32" y1="722.30" x2="481.32" y2="724.30" stroke="#000" stroke-width="0.7"/>
<line x1="484.06" y1="722.30" x2="484.06" y2="724.30" stroke="#000" stroke-width="0.7"/>
<line x1="486.81" y1="722.30" x2="486.81" y2="724.30" stroke="#000" stroke-width="0.7"/>
<line x1="489.56" y1="722.30" x2="489.56" y2="725.10" stroke="#000" stroke-width="1"/>
<line x1="492.31" y1="722.30" x2="492.31" y2="724.30" stroke="#000" stroke-width="0.7"/>
<line x1="495.06" y1="722.30" x2="495.06" y2="724.30" stroke="#000" stroke-width="0.7"/>
<line x1="497.81" y1="722.30" x2="497.81" y2="724.30" stroke="#000" stroke-width="0.7"/>
<line x1="500.56" y1="722.30" x2="500.56" y2="724.30" stroke="#000" stroke-width="0.7"/>
<line x1="503.31" y1="722.30" x2="503.31" y2="725.50" stroke="#555" stroke-width="0.8"/>
<line x1="506.06" y1="722.30" x2="506.06" y2="724.30" stroke="#000" stroke-width="0.7"/>
<line x1="508.81" y1="722.30" x2="508.81" y2="724.30" stroke="#000" stroke-width="0.7"/>
<line x1="511.56" y1="722.30" x2="511.56" y2="724.30" stroke="#000" stroke-width="0.7"/>
<line x1="514.31" y1="722.30" x2="514.31" y2="724.30" stroke="#000" stroke-width="0.7"/>
<line x1="517.06" y1="722.30" x2="517.06" y2="725.10" stroke="#000" stroke-width="1"/>
<line x1="519.81" y1="722.30" x2="519.81" y2="724.30" stroke="#000" stroke-width="0.7"/>
<line x1="522.56" y1="722.30" x2="522.56" y2="724.30" stroke="#000" stroke-width="0.7"/>
<line x1="525.31" y1="722.30" x2="525.31" y2="724.30" stroke="#000" stroke-width="0.7"/>
<line x1="528.06" y1="722.30" x2="528.06" y2="724.30" stroke="#000" stroke-width="0.7"/>
<line x1="530.81" y1="722.30" x2="530.81" y2="725.50" stroke="#555" stroke-width="0.8"/>
<line x1="533.56" y1="722.30" x2="533.56" y2="724.30" stroke="#000" stroke-width="0.7"/>
<line x1="536.31" y1="722.30" x2="536.31" y2="724.30" stroke="#000" stroke-width="0.7"/>
<line x1="539.06" y1="722.30" x2="539.06" y2="724.30" stroke="#000" stroke-width="0.7"/>
<line x1="541.81" y1="722.30" x2="541.81" y2="724.30" stroke="#000" stroke-width="0.7"/>
<line x1="544.55" y1="722.30" x2="544.55" y2="725.10" stroke="#000" stroke-width="1"/>
<line x1="547.30" y1="722.30" x2="547.30" y2="724.30" stroke="#000" stroke-width="0.7"/>
<line x1="550.05" y1="722.30" x2="550.05" y2="724.30" stroke="#000" stroke-width="0.7"/>
<line x1="552.80" y1="722.30" x2="552.80" y2="724.30" stroke="#000" stroke-width="0.7"/>
<line x1="555.55" y1="722.30" x2="555.55" y2="724.30" stroke="#000" stroke-width="0.7"/>
<line x1="558.30" y1="722.30" x2="558.30" y2="725.50" stroke="#555" stroke-width="0.8"/>
<line x1="561.05" y1="722.30" x2="561.05" y2="724.30" stroke="#000" stroke-width="0.7"/>
<line x1="563.80" y1="722.30" x2="563.80" y2="724.30" stroke="#000" stroke-width="0.7"/>
<line x1="566.55" y1="722.30" x2="566.55" y2="724.30" stroke="#000" stroke-width="0.7"/>
<line x1="569.30" y1="722.30" x2="569.30" y2="724.30" stroke="#000" stroke-width="0.7"/>
<line x1="572.05" y1="722.30" x2="572.05" y2="725.10" stroke="#000" stroke-width="1"/>
<line x1="574.80" y1="722.30" x2="574.80" y2="724.30" stroke="#000" stroke-width="0.7"/>
<line x1="577.55" y1="722.30" x2="577.55" y2="724.30" stroke="#000" stroke-width="0.7"/>
<line x1="580.30" y1="722.30" x2="580.30" y2="724.30" stroke="#000" stroke-width="0.7"/>
<line x1="583.05" y1="722.30" x2="583.05" y2="724.30" stroke="#000" stroke-width="0.7"/>
<line x1="585.80" y1="722.30" x2="585.80" y2="725.50" stroke="#555" stroke-width="0.8"/>
<line x1="588.55" y1="722.30" x2="588.55" y2="724.30" stroke="#000" stroke-width="0.7"/>
<line x1="591.30" y1="722.30" x2="591.30" y2="724.30" stroke="#000" stroke-width="0.7"/>
<line x1="594.05" y1="722.30" x2="594.05" y2="724.30" stroke="#000" stroke-width="0.7"/>
<line x1="596.80" y1="722.30" x2="596.80" y2="724.30" stroke="#000" stroke-width="0.7"/>
<line x1="599.55" y1="722.30" x2="599.55" y2="725.10" stroke="#000" stroke-width="1"/>
<line x1="602.30" y1="722.30" x2="602.30" y2="724.30" stroke="#000" stroke-width="0.7"/>
<line x1="605.04" y1="722.30" x2="605.04" y2="724.30" stroke="#000" stroke-width="0.7"/>
<line x1="607.79" y1="722.30" x2="607.79" y2="724.30" stroke="#000" stroke-width="0.7"/>
<line x1="610.54" y1="722.30" x2="610.54" y2="724.30" stroke="#000" stroke-width="0.7"/>
<line x1="613.29" y1="722.30" x2="613.29" y2="725.50" stroke="#555" stroke-width="0.8"/>
<line x1="616.04" y1="722.30" x2="616.04" y2="724.30" stroke="#000" stroke-width="0.7"/>
<line x1="618.79" y1="722.30" x2="618.79" y2="724.30" stroke="#000" stroke-width="0.7"/>
<line x1="621.54" y1="722.30" x2="621.54" y2="724.30" stroke="#000" stroke-width="0.7"/>
<line x1="624.29" y1="722.30" x2="624.29" y2="724.30" stroke="#000" stroke-width="0.7"/>
<line x1="627.04" y1="722.30" x2="627.04" y2="725.10" stroke="#000" stroke-width="1"/>
<line x1="629.79" y1="722.30" x2="629.79" y2="724.30" stroke="#000" stroke-width="0.7"/>
<line x1="632.54" y1="722.30" x2="632.54" y2="724.30" stroke="#000" stroke-width="0.7"/>
<line x1="635.29" y1="722.30" x2="635.29" y2="724.30" stroke="#000" stroke-width="0.7"/>
<line x1="638.04" y1="722.30" x2="638.04" y2="724.30" stroke="#000" stroke-width="0.7"/>
<line x1="640.79" y1="722.30" x2="640.79" y2="725.50" stroke="#555" stroke-width="0.8"/>
<line x1="643.54" y1="722.30" x2="643.54" y2="724.30" stroke="#000" stroke-width="0.7"/>
<line x1="646.29" y1="722.30" x2="646.29" y2="724.30" stroke="#000" stroke-width="0.7"/>
<line x1="649.04" y1="722.30" x2="649.04" y2="724.30" stroke="#000" stroke-width="0.7"/>
<line x1="651.79" y1="722.30" x2="651.79" y2="724.30" stroke="#000" stroke-width="0.7"/>
<line x1="654.54" y1="722.30" x2="654.54" y2="725.10" stroke="#000" stroke-width="1"/>
<line x1="657.29" y1="722.30" x2="657.29" y2="724.30" stroke="#000" stroke-width="0.7"/>
<line x1="660.04" y1="722.30" x2="660.04" y2="724.30" stroke="#000" stroke-width="0.7"/>
<line x1="662.79" y1="722.30" x2="662.79" y2="724.30" stroke="#000" stroke-width="0.7"/>
<line x1="665.53" y1="722.30" x2="665.53" y2="724.30" stroke="#000" stroke-width="0.7"/>
<line x1="668.28" y1="722.30" x2="668.28" y2="725.50" stroke="#555" stroke-width="0.8"/>
<line x1="671.03" y1="722.30" x2="671.03" y2="724.30" stroke="#000" stroke-width="0.7"/>
<line x1="673.78" y1="722.30" x2="673.78" y2="724.30" stroke="#000" stroke-width="0.7"/>
<line x1="676.53" y1="722.30" x2="676.53" y2="724.30" stroke="#000" stroke-width="0.7"/>
<line x1="679.28" y1="722.30" x2="679.28" y2="724.30" stroke="#000" stroke-width="0.7"/>
<line x1="682.03" y1="722.30" x2="682.03" y2="725.10" stroke="#000" stroke-width="1"/>
<line x1="684.78" y1="722.30" x2="684.78" y2="724.30" stroke="#000" stroke-width="0.7"/>
<line x1="687.53" y1="722.30" x2="687.53" y2="724.30" stroke="#000" stroke-width="0.7"/>
<line x1="690.28" y1="722.30" x2="690.28" y2="724.30" stroke="#000" stroke-width="0.7"/>
<line x1="693.03" y1="722.30" x2="693.03" y2="724.30" stroke="#000" stroke-width="0.7"/>
<line x1="695.78" y1="722.30" x2="695.78" y2="725.50" stroke="#555" stroke-width="0.8"/>
<line x1="698.53" y1="722.30" x2="698.53" y2="724.30" stroke="#000" stroke-width="0.7"/>
<line x1="701.28" y1="722.30" x2="701.28" y2="724.30" stroke="#000" stroke-width="0.7"/>
<line x1="704.03" y1="722.30" x2="704.03" y2="724.30" stroke="#000" stroke-width="0.7"/>
<line x1="706.78" y1="722.30" x2="706.78" y2="724.30" stroke="#000" stroke-width="0.7"/>
<line x1="709.53" y1="722.30" x2="709.53" y2="725.10" stroke="#000" stroke-width="1"/>
<line x1="712.28" y1="722.30" x2="712.28" y2="724.30" stroke="#000" stroke-width="0.7"/>
<line x1="715.03" y1="722.30" x2="715.03" y2="724.30" stroke="#000" stroke-width="0.7"/>
<line x1="717.78" y1="722.30" x2="717.78" y2="724.30" stroke="#000" stroke-width="0.7"/>
<line x1="720.53" y1="722.30" x2="720.53" y2="724.30" stroke="#000" stroke-width="0.7"/>
<line x1="723.28" y1="722.30" x2="723.28" y2="725.50" stroke="#555" stroke-width="0.8"/>
<line x1="726.02" y1="722.30" x2="726.02" y2="724.30" stroke="#000" stroke-width="0.7"/>
<line x1="728.77" y1="722.30" x2="728.77" y2="724.30" stroke="#000" stroke-width="0.7"/>
<line x1="731.52" y1="722.30" x2="731.52" y2="724.30" stroke="#000" stroke-width="0.7"/>
<line x1="734.27" y1="722.30" x2="734.27" y2="724.30" stroke="#000" stroke-width="0.7"/>
<line x1="737.02" y1="722.30" x2="737.02" y2="725.10" stroke="#000" stroke-width="1"/>
<line x1="739.77" y1="722.30" x2="739.77" y2="724.30" stroke="#000" stroke-width="0.7"/>
<line x1="742.52" y1="722.30" x2="742.52" y2="724.30" stroke="#000" stroke-width="0.7"/>
<line x1="745.27" y1="722.30" x2="745.27" y2="724.30" stroke="#000" stroke-width="0.7"/>
<line x1="748.02" y1="722.30" x2="748.02" y2="724.30" stroke="#000" stroke-width="0.7"/>
<line x1="750.77" y1="722.30" x2="750.77" y2="725.50" stroke="#555" stroke-width="0.8"/>
<line x1="753.52" y1="722.30" x2="753.52" y2="724.30" stroke="#000" stroke-width="0.7"/>
<line x1="756.27" y1="722.30" x2="756.27" y2="724.30" stroke="#000" stroke-width="0.7"/>
<line x1="759.02" y1="722.30" x2="759.02" y2="724.30" stroke="#000" stroke-width="0.7"/>
<line x1="761.77" y1="722.30" x2="761.77" y2="724.30" stroke="#000" stroke-width="0.7"/>
<line x1="764.52" y1="722.30" x2="764.52" y2="725.10" stroke="#000" stroke-width="1"/>
<line x1="767.27" y1="722.30" x2="767.27" y2="724.30" stroke="#000" stroke-width="0.7"/>
<line x1="770.02" y1="722.30" x2="770.02" y2="724.30" stroke="#000" stroke-width="0.7"/>
<line x1="772.77" y1="722.30" x2="772.77" y2="724.30" stroke="#000" stroke-width="0.7"/>
<line x1="775.52" y1="722.30" x2="775.52" y2="724.30" stroke="#000" stroke-width="0.7"/>
<line x1="778.27" y1="722.30" x2="778.27" y2="725.50" stroke="#555" stroke-width="0.8"/>
<line x1="781.02" y1="722.30" x2="781.02" y2="724.30" stroke="#000" stroke-width="0.7"/>
<line x1="783.77" y1="722.30" x2="783.77" y2="724.30" stroke="#000" stroke-width="0.7"/>
<line x1="786.51" y1="722.30" x2="786.51" y2="724.30" stroke="#000" stroke-width="0.7"/>
<line x1="789.26" y1="722.30" x2="789.26" y2="724.30" stroke="#000" stroke-width="0.7"/>
<line x1="792.01" y1="722.30" x2="792.01" y2="725.10" stroke="#000" stroke-width="1"/>
<line x1="794.76" y1="722.30" x2="794.76" y2="724.30" stroke="#000" stroke-width="0.7"/>
<line x1="797.51" y1="722.30" x2="797.51" y2="724.30" stroke="#000" stroke-width="0.7"/>
<line x1="800.26" y1="722.30" x2="800.26" y2="724.30" stroke="#000" stroke-width="0.7"/>
<line x1="803.01" y1="722.30" x2="803.01" y2="724.30" stroke="#000" stroke-width="0.7"/>
<line x1="805.76" y1="722.30" x2="805.76" y2="725.50" stroke="#555" stroke-width="0.8"/>
<line x1="808.51" y1="722.30" x2="808.51" y2="724.30" stroke="#000" stroke-width="0.7"/>
<line x1="811.26" y1="722.30" x2="811.26" y2="724.30" stroke="#000" stroke-width="0.7"/>
<line x1="814.01" y1="722.30" x2="814.01" y2="724.30" stroke="#000" stroke-width="0.7"/>
<line x1="816.76" y1="722.30" x2="816.76" y2="724.30" stroke="#000" stroke-width="0.7"/>
<line x1="819.51" y1="722.30" x2="819.51" y2="725.10" stroke="#000" stroke-width="1"/>
<line x1="822.26" y1="722.30" x2="822.26" y2="724.30" stroke="#000" stroke-width="0.7"/>
<line x1="825.01" y1="722.30" x2="825.01" y2="724.30" stroke="#000" stroke-width="0.7"/>
<line x1="827.76" y1="722.30" x2="827.76" y2="724.30" stroke="#000" stroke-width="0.7"/>
<line x1="830.51" y1="722.30" x2="830.51" y2="724.30" stroke="#000" stroke-width="0.7"/>
<line x1="833.26" y1="722.30" x2="833.26" y2="725.50" stroke="#555" stroke-width="0.8"/>
<line x1="836.01" y1="722.30" x2="836.01" y2="724.30" stroke="#000" stroke-width="0.7"/>
<line x1="838.76" y1="722.30" x2="838.76" y2="724.30" stroke="#000" stroke-width="0.7"/>
<line x1="841.51" y1="722.30" x2="841.51" y2="724.30" stroke="#000" stroke-width="0.7"/>
<line x1="844.25" y1="722.30" x2="844.25" y2="724.30" stroke="#000" stroke-width="0.7"/>
<line x1="847.00" y1="722.30" x2="847.00" y2="725.10" stroke="#000" stroke-width="1"/>
<line x1="849.75" y1="722.30" x2="849.75" y2="724.30" stroke="#000" stroke-width="0.7"/>
<line x1="852.50" y1="722.30" x2="852.50" y2="724.30" stroke="#000" stroke-width="0.7"/>
<line x1="855.25" y1="722.30" x2="855.25" y2="724.30" stroke="#000" stroke-width="0.7"/>
<line x1="858.00" y1="722.30" x2="858.00" y2="724.30" stroke="#000" stroke-width="0.7"/>
<line x1="860.75" y1="722.30" x2="860.75" y2="725.50" stroke="#555" stroke-width="0.8"/>
<line x1="863.50" y1="722.30" x2="863.50" y2="724.30" stroke="#000" stroke-width="0.7"/>
<line x1="866.25" y1="722.30" x2="866.25" y2="724.30" stroke="#000" stroke-width="0.7"/>
<line x1="869.00" y1="722.30" x2="869.00" y2="724.30" stroke="#000" stroke-width="0.7"/>
<line x1="871.75" y1="722.30" x2="871.75" y2="724.30" stroke="#000" stroke-width="0.7"/>
<line x1="874.50" y1="722.30" x2="874.50" y2="725.10" stroke="#000" stroke-width="1"/>
<rect x="263.80" y="721.00" width="4.2" height="2.6" fill="#a09cb4" opacity="0.55"/>
<rect x="876.90" y="721.00" width="4.2" height="2.6" fill="#a09cb4" opacity="0.55"/>
<rect x="263.80" y="685.47" width="4.2" height="2.6" fill="#a09cb4" opacity="0.55"/>
<rect x="876.90" y="685.47" width="4.2" height="2.6" fill="#a09cb4" opacity="0.55"/>
<rect x="263.80" y="649.94" width="4.2" height="2.6" fill="#a09cb4" opacity="0.55"/>
<rect x="876.90" y="649.94" width="4.2" height="2.6" fill="#a09cb4" opacity="0.55"/>
<rect x="263.80" y="614.41" width="4.2" height="2.6" fill="#a09cb4" opacity="0.55"/>
<rect x="876.90" y="614.41" width="4.2" height="2.6" fill="#a09cb4" opacity="0.55"/>
<rect x="263.80" y="578.88" width="4.2" height="2.6" fill="#a09cb4" opacity="0.55"/>
<rect x="876.90" y="578.88" width="4.2" height="2.6" fill="#a09cb4" opacity="0.55"/>
<rect x="263.80" y="543.35" width="4.2" height="2.6" fill="#a09cb4" opacity="0.55"/>
<rect x="876.90" y="543.35" width="4.2" height="2.6" fill="#a09cb4" opacity="0.55"/>
<rect x="263.80" y="507.82" width="4.2" height="2.6" fill="#a09cb4" opacity="0.55"/>
<rect x="876.90" y="507.82" width="4.2" height="2.6" fill="#a09cb4" opacity="0.55"/>
<rect x="263.80" y="472.29" width="4.2" height="2.6" fill="#a09cb4" opacity="0.55"/>
<rect x="876.90" y="472.29" width="4.2" height="2.6" fill="#a09cb4" opacity="0.55"/>
<rect x="263.80" y="436.76" width="4.2" height="2.6" fill="#a09cb4" opacity="0.55"/>
<rect x="876.90" y="436.76" width="4.2" height="2.6" fill="#a09cb4" opacity="0.55"/>
<rect x="263.80" y="401.23" width="4.2" height="2.6" fill="#a09cb4" opacity="0.55"/>
<rect x="876.90" y="401.23" width="4.2" height="2.6" fill="#a09cb4" opacity="0.55"/>
<rect x="263.80" y="365.70" width="4.2" height="2.6" fill="#a09cb4" opacity="0.55"/>
<rect x="876.90" y="365.70" width="4.2" height="2.6" fill="#a09cb4" opacity="0.55"/>
<rect x="267.60" y="727.30" width="4.4" height="2.6" fill="#a09cb4" opacity="0.5"/>
<rect x="295.10" y="727.30" width="4.4" height="2.6" fill="#a09cb4" opacity="0.5"/>
<rect x="322.59" y="727.30" width="4.4" height="2.6" fill="#a09cb4" opacity="0.5"/>
<rect x="350.09" y="727.30" width="4.4" height="2.6" fill="#a09cb4" opacity="0.5"/>
<rect x="377.58" y="727.30" width="4.4" height="2.6" fill="#a09cb4" opacity="0.5"/>
<rect x="405.08" y="727.30" width="4.4" height="2.6" fill="#a09cb4" opacity="0.5"/>
<rect x="432.57" y="727.30" width="4.4" height="2.6" fill="#a09cb4" opacity="0.5"/>
<rect x="460.07" y="727.30" width="4.4" height="2.6" fill="#a09cb4" opacity="0.5"/>
<rect x="487.56" y="727.30" width="4.4" height="2.6" fill="#a09cb4" opacity="0.5"/>
<rect x="515.06" y="727.30" width="4.4" height="2.6" fill="#a09cb4" opacity="0.5"/>
<rect x="542.55" y="727.30" width="4.4" height="2.6" fill="#a09cb4" opacity="0.5"/>
<rect x="570.05" y="727.30" width="4.4" height="2.6" fill="#a09cb4" opacity="0.5"/>
<rect x="597.55" y="727.30" width="4.4" height="2.6" fill="#a09cb4" opacity="0.5"/>
<rect x="625.04" y="727.30" width="4.4" height="2.6" fill="#a09cb4" opacity="0.5"/>
<rect x="652.54" y="727.30" width="4.4" height="2.6" fill="#a09cb4" opacity="0.5"/>
<rect x="680.03" y="727.30" width="4.4" height="2.6" fill="#a09cb4" opacity="0.5"/>
<rect x="707.53" y="727.30" width="4.4" height="2.6" fill="#a09cb4" opacity="0.5"/>
<rect x="735.02" y="727.30" width="4.4" height="2.6" fill="#a09cb4" opacity="0.5"/>
<rect x="762.52" y="727.30" width="4.4" height="2.6" fill="#a09cb4" opacity="0.5"/>
<rect x="790.01" y="727.30" width="4.4" height="2.6" fill="#a09cb4" opacity="0.5"/>
<rect x="817.51" y="727.30" width="4.4" height="2.6" fill="#a09cb4" opacity="0.5"/>
<rect x="845.00" y="727.30" width="4.4" height="2.6" fill="#a09cb4" opacity="0.5"/>
<rect x="872.50" y="727.30" width="4.4" height="2.6" fill="#a09cb4" opacity="0.5"/>
<rect x="565" y="734" width="14" height="2.4" fill="#a09cb4" opacity="0.5"/>
<line x1="278.2" y1="372.6" x2="288" y2="372.6" stroke="#666" stroke-width="1.8"/>
<rect x="289.8" y="369" width="24" height="2.2" fill="#5a5878" opacity="0.5"/>
<rect x="289.8" y="374.6" width="87" height="2.2" fill="#5e6070" opacity="0.5"/>
<rect x="278.2" y="380.1" width="12.8" height="2.6" fill="#a09090" opacity="0.55"/>
<path d="M270.0 686.5 L271.6 686.1 L273.2 685.7 L274.9 686.5 L276.5 685.4 L278.1 686.1 L279.8 685.7 L281.4 685.1 L283.0 685.8 L284.5 685.8 L286.0 684.9 L287.5 685.5 L289.0 684.8 L290.5 684.8 L292.0 685.4 L293.5 686.0 L295.0 685.4 L296.8 684.0 L298.7 683.4 L300.5 683.2 L302.2 682.9 L303.9 682.1 L305.5 683.2 L307.2 682.7 L308.9 683.9 L310.5 684.9 L312.4 684.7 L314.2 685.8 L316.1 684.9 L318.3 678.8 L320.0 684.3 L322.2 675.5 L325.0 684.3 L326.5 679.0 L328.0 658.3 L329.4 681.0 L331.0 683.0 L332.5 671.0 L333.8 682.1 L335.5 682.4 L337.2 684.3 L339.4 671.0 L340.5 668.0 L342.5 654.4 L343.8 677.7 L345.5 682.7 L347.7 673.2 L348.8 676.5 L350.3 611.1 L351.5 655.0 L352.9 682.1 L355.8 676.6 L358.0 682.1 L359.5 680.5 L361.0 677.7 L363.2 682.1 L364.9 679.8 L366.6 678.2 L369.3 682.1 L371.6 680.4 L373.3 680.9 L375.0 682.7 L377.2 681.5 L378.7 664.9 L380.5 677.1 L382.2 671.6 L383.9 680.4 L386.1 671.6 L387.8 680.4 L390.0 672.7 L391.5 679.0 L392.7 671.0 L393.9 679.9 L395.5 668.8 L397.2 679.3 L399.1 680.4 L401.6 659.9 L403.3 678.2 L404.8 676.0 L406.6 665.5 L408.8 679.9 L410.2 672.0 L411.9 611.1 L413.5 665.0 L415.3 673.8 L417.5 609.4 L418.8 657.1 L420.5 669.3 L421.6 654.9 L423.3 671.6 L425.5 652.7 L427.1 672.7 L428.2 662.7 L429.9 674.9 L432.1 674.9 L434.4 678.2 L437.1 654.4 L438.8 672.7 L441.6 657.7 L443.2 674.9 L444.7 673.3 L447.5 667.7 L449.0 673.3 L451.2 535.0 L453.5 664.0 L456.4 540.6 L457.8 613.5 L458.7 549.9 L460.2 658.3 L462.1 605.0 L463.4 641.5 L464.3 626.5 L466.2 662.0 L469.0 671.4 L471.8 626.5 L474.6 669.5 L476.1 671.8 L479.2 600.6 L480.5 655.2 L481.6 644.1 L483.4 670.7 L485.5 668.0 L487.2 666.3 L489.0 670.0 L491.1 606.4 L493.1 668.5 L494.9 653.0 L496.7 668.5 L499.8 541.0 L501.6 668.5 L503.8 655.2 L506.0 643.0 L508.2 659.6 L510.4 670.7 L513.1 658.5 L516.0 674.0 L518.0 665.0 L520.0 402.5 L521.5 661.9 L523.5 668.0 L526.0 664.1 L528.2 668.5 L530.4 586.5 L532.6 664.1 L534.2 661.8 L535.9 660.8 L537.6 664.3 L539.3 668.5 L542.0 668.0 L544.8 645.2 L547.0 665.2 L549.7 672.6 L551.5 646.3 L552.9 663.1 L554.5 645.2 L556.6 664.2 L558.7 668.4 L561.3 659.4 L563.9 671.5 L566.0 667.8 L568.7 671.5 L570.2 669.5 L571.8 666.3 L574.4 671.5 L576.6 666.8 L578.2 668.6 L579.7 671.5 L581.3 666.3 L582.7 637.3 L584.4 663.1 L587.1 665.7 L588.7 665.1 L590.2 664.2 L592.3 652.1 L594.4 665.2 L597.1 661.0 L599.7 665.7 L601.8 666.8 L603.9 667.3 L605.5 668.4 L607.1 670.0 L609.2 663.1 L611.3 657.8 L612.8 642.1 L615.0 657.3 L616.8 659.2 L618.6 661.0 L620.2 661.8 L621.8 664.2 L623.9 649.4 L626.5 635.8 L628.1 650.5 L629.7 660.5 L632.3 654.7 L633.8 653.1 L635.4 653.1 L637.6 651.5 L639.7 651.0 L641.8 651.5 L643.0 653.0 L644.9 644.7 L647.0 653.6 L648.6 655.5 L650.2 656.8 L653.3 642.6 L654.9 644.3 L656.5 646.3 L658.6 649.4 L661.2 634.7 L662.1 646.8 L664.7 652.6 L666.3 650.5 L667.9 649.2 L669.5 647.3 L671.0 651.2 L672.6 655.2 L674.5 658.5 L676.3 662.6 L677.9 660.1 L679.4 657.0 L681.0 653.6 L682.9 654.4 L684.7 656.2 L686.3 655.1 L687.8 653.8 L689.4 652.6 L691.5 645.7 L693.4 637.3 L695.8 648.9 L697.9 654.8 L700.0 659.4 L702.1 657.7 L704.2 655.2 L706.3 656.2 L708.4 658.0 L710.5 660.5 L712.6 661.9 L714.7 661.5 L717.3 650.5 L719.0 657.0 L720.8 658.6 L722.6 661.5 L724.5 660.5 L726.4 660.2 L728.3 658.9 L730.1 657.5 L732.0 657.3 L733.9 655.7 L735.7 655.7 L738.3 642.6 L740.1 640.5 L742.0 637.8 L744.1 640.5 L745.7 644.1 L747.3 646.8 L749.1 626.5 L751.0 535.2 L752.2 580.8 L753.2 607.5 L754.4 573.2 L756.0 562.6 L757.5 538.3 L759.0 520.0 L759.8 501.5 L761.0 460.0 L762.5 408.7 L762.9 520.0 L764.3 596.0 L766.6 631.8 L768.1 580.8 L769.2 484.0 L770.4 580.8 L772.0 626.5 L774.2 640.2 L775.0 643.0 L777.5 642.6 L779.5 646.4 L781.6 650.0 L783.4 648.6 L785.1 645.5 L786.9 643.8 L788.5 635.0 L789.6 628.6 L791.0 638.0 L792.2 643.4 L793.9 639.3 L795.5 634.4 L797.1 645.9 L799.6 649.1 L801.2 650.0 L802.9 650.7 L804.6 651.2 L806.2 652.0 L808.2 653.0 L810.3 652.8 L812.0 653.2 L813.6 652.0 L815.6 647.5 L817.7 650.8 L819.5 648.6 L821.2 646.7 L823.0 644.2 L825.0 649.1 L826.6 649.2 L828.3 650.8 L829.8 649.9 L831.3 648.6 L832.8 647.1 L834.0 635.0 L835.3 619.6 L837.3 627.8 L838.6 636.0 L840.6 633.1 L842.7 638.7 L844.7 642.6 L846.8 645.0 L848.8 646.3 L851.7 646.3 L853.4 647.6 L855.0 649.6 L856.6 647.2 L858.3 645.5 L859.9 643.0 L861.8 643.8 L863.6 646.3 L865.5 647.2 L867.4 647.6 L869.3 649.1 L871.3 648.2 L873.4 648.7" fill="none" stroke="#000" stroke-width="2.1" stroke-linejoin="round" stroke-linecap="round"/>
<rect x="326.60" y="649.90" width="2.8" height="4.8" fill="#a6a4b8" opacity="0.6"/>
<rect x="340.80" y="645.80" width="2.8" height="4.8" fill="#a6a4b8" opacity="0.6"/>
<rect x="348.90" y="604.00" width="2.8" height="4.8" fill="#a6a4b8" opacity="0.6"/>
<rect x="410.70" y="603.60" width="2.8" height="4.8" fill="#a6a4b8" opacity="0.6"/>
<rect x="416.10" y="601.20" width="2.8" height="4.8" fill="#a6a4b8" opacity="0.6"/>
<rect x="449.80" y="526.40" width="2.8" height="4.8" fill="#a6a4b8" opacity="0.6"/>
<rect x="455.40" y="531.80" width="2.8" height="4.8" fill="#a6a4b8" opacity="0.6"/>
<rect x="458.20" y="542.00" width="2.8" height="4.8" fill="#a6a4b8" opacity="0.6"/>
<rect x="470.40" y="618.60" width="2.8" height="4.8" fill="#a6a4b8" opacity="0.6"/>
<rect x="477.60" y="591.80" width="2.8" height="4.8" fill="#a6a4b8" opacity="0.6"/>
<rect x="489.70" y="598.50" width="2.8" height="4.8" fill="#a6a4b8" opacity="0.6"/>
<rect x="498.10" y="532.00" width="2.8" height="4.8" fill="#a6a4b8" opacity="0.6"/>
<rect x="518.90" y="393.10" width="2.8" height="4.8" fill="#a6a4b8" opacity="0.6"/>
<rect x="529.00" y="576.30" width="2.8" height="4.8" fill="#a6a4b8" opacity="0.6"/>
<rect x="542.90" y="636.20" width="2.8" height="4.8" fill="#a6a4b8" opacity="0.6"/>
<rect x="550.30" y="636.20" width="2.8" height="4.8" fill="#a6a4b8" opacity="0.6"/>
<rect x="581.10" y="628.60" width="2.8" height="4.8" fill="#a6a4b8" opacity="0.6"/>
<rect x="611.40" y="632.80" width="2.8" height="4.8" fill="#a6a4b8" opacity="0.6"/>
<rect x="624.80" y="627.00" width="2.8" height="4.8" fill="#a6a4b8" opacity="0.6"/>
<rect x="659.80" y="625.50" width="2.8" height="4.8" fill="#a6a4b8" opacity="0.6"/>
<rect x="691.40" y="627.00" width="2.8" height="4.8" fill="#a6a4b8" opacity="0.6"/>
<rect x="715.90" y="641.20" width="2.8" height="4.8" fill="#a6a4b8" opacity="0.6"/>
<rect x="750.00" y="525.00" width="2.8" height="4.8" fill="#a6a4b8" opacity="0.6"/>
<rect x="761.10" y="399.50" width="2.8" height="4.8" fill="#a6a4b8" opacity="0.6"/>
<rect x="767.60" y="475.10" width="2.8" height="4.8" fill="#a6a4b8" opacity="0.6"/>
<rect x="788.00" y="619.10" width="2.8" height="4.8" fill="#a6a4b8" opacity="0.6"/>
<rect x="834.10" y="609.40" width="2.8" height="4.8" fill="#a6a4b8" opacity="0.6"/>
<rect x="838.80" y="623.40" width="2.8" height="4.8" fill="#a6a4b8" opacity="0.6"/>
</svg>
<svg width="1280" height="856" style="position:absolute;left:0;top:0">
<defs><path id="sealTop" d="M 127.70 86.06 A 30.60 30.60 0 1 1 188.04 87.64"/>
<path id="sealBot" d="M 123.96 99.14 A 38.20 38.20 0 0 0 192.04 99.14"/></defs>
<circle cx="158.00" cy="81.80" r="42.5" fill="none" stroke="#111" stroke-width="1.9" stroke-dasharray="1.2 0.6"/>
<circle cx="158.00" cy="81.80" r="40.8" fill="none" stroke="#1a1a1a" stroke-width="1.5"/>
<circle cx="157.60" cy="81.80" r="28.2" fill="none" stroke="#111" stroke-width="2.1"/>
<text font-family="Liberation Sans" font-weight="bold" font-size="8.6" fill="#151515" stroke="#151515" stroke-width="0.35"><textPath href="#sealTop" textLength="106.3" lengthAdjust="spacingAndGlyphs">UNIVERSIDADE FEDERAL DE MINAS GERAIS</textPath></text>
<text font-family="Liberation Sans" font-weight="bold" font-size="8.2" fill="#151515" stroke="#151515" stroke-width="0.35"><textPath href="#sealBot" textLength="84.0" lengthAdjust="spacingAndGlyphs">7 DE SETEMBRO DE 1927</textPath></text>
<circle cx="124.90" cy="92.55" r="1.1" fill="#222"/>
<circle cx="191.10" cy="92.55" r="1.1" fill="#222"/>
<circle cx="148.4" cy="72" r="2.9" fill="#8a8a8a"/>
<circle cx="168.3" cy="72.3" r="2.7" fill="#9a9a9a"/>
<path d="M152.5 73 L155 69 L157.3 66 L158.6 63.2 L160 64.5 L161.5 67.5 L164.5 71 L165.5 73 Z" fill="#6e6e6e"/>
<rect x="145" y="72.2" width="26.8" height="2.6" fill="#505050"/>
<rect x="145" y="74.8" width="26.8" height="1.8" fill="#b0b0b0"/>
<rect x="145" y="76.6" width="26.8" height="8.8" fill="#7a7a7a"/>
<rect x="151.6" y="77.4" width="13.3" height="6.6" fill="#fff"/>
<rect x="143.3" y="84.8" width="29" height="1.4" fill="#3c3c3c"/>
<rect x="140.5" y="86.6" width="35.5" height="2.4" fill="#9c9c9c"/>
<rect x="136.2" y="89.2" width="42.4" height="2.9" fill="#8c8c8c"/>
<rect x="138" y="92.1" width="36" height="0.9" fill="#bbb"/>
<path d="M140 95.3 H150 M153 95.3 H160.5 M164 95.3 H175" stroke="#4a4a4a" stroke-width="1.3" stroke-dasharray="1.4 0.8"/>
</svg>
<svg width="1280" height="856" style="position:absolute;left:0;top:0">
<path d="M1030.5 51.7 V78.5 Q1030.5 86.1 1037 86.1 H1043.2 Q1049.7 86.1 1049.7 78.5 V51.7" fill="none" stroke="#000" stroke-width="2.7"/>
<path d="M1062.8 87.7 V53.5 H1076.4 M1062.8 68.1 H1076.4" fill="none" stroke="#000" stroke-width="3.4"/>
<path d="M1063 51.7 H1065 V87.7 H1060.6 V51.7 Z" fill="#000"/>
<path d="M1175 59.8 C1172.5 54 1167 51.6 1160.8 51.6 C1151 51.6 1145.3 60 1145.3 69.4 C1145.3 79.5 1151.5 87.2 1160.8 87.2 C1170 87.2 1176.3 80.5 1176.3 73 V71.3 H1162.4" fill="none" stroke="#000" stroke-width="3"/>
<path d="M1068.4 89.9 C1074 82 1081 68 1086 61 C1089 57 1092.5 55.2 1095.9 55.2 C1099.4 55.6 1100.5 62 1102 70 C1103 76 1104.5 80.1 1106.4 80.1 C1109 80 1113 73 1116.3 68.1 C1119 63 1121.5 55 1126.1 52.7 C1130 52 1131.5 58 1133.2 65 C1135 71 1137 78 1140.2 83.6 C1143 87.5 1147 91.5 1154.2 96.3" fill="none" stroke="#f00" stroke-width="4" stroke-linecap="round"/>
</svg>
<svg width="1280" height="856" style="position:absolute;left:0;top:0">
<g fill="none" stroke="#333" stroke-width="1.05" stroke-linecap="round" stroke-linejoin="round">
<path d="M113.6 691.3 C109 693 105.5 696 105.4 702 C105.3 708 106.2 712 107.6 718.3 M103.9 713.2 L107.6 718.3"/>
<path d="M119.8 712 C117 710.3 115 712.5 115.4 716 C115.8 719.5 119 720.5 121 718 C122.5 716 122.3 713 121.5 711.5 C122 715 122.6 718.5 124.3 718.6 C126 718.6 126.3 714 126.8 712.8 C127 716 128 719.5 129.8 719 C131.5 718 132 714 132.5 712.8 C132.8 717 133.5 719.5 135.5 718.6 C137.5 717.5 138 714 138.5 712.2 C138.8 717 141.5 719 143.5 717.2 C145 716 146 713 146.8 710"/>
<path d="M148 702.6 C147 708 146.3 714 146 720 C145.3 725 144 728 145 730 C146.5 731.5 149 731 149.5 728.5 C150 725 148.5 721.5 146.5 719.5"/>
<path d="M147 717 C149 714 151 710 153 709.5 C155 709.3 155 712 153.5 714.5 C152 716.5 150.5 717.5 151.5 718.2 C153 719 155.5 717 157 715 C158 713.5 159 712.5 160 713 C161 714 160.5 716.5 161.5 717.5 C162.5 718.3 164 715.5 165 714 C166 712.8 167 713 167.5 714.5 C168 716 168.5 718 170 717.8 C171.5 717.5 173 715 174.5 713.8 C176 713 177.5 714 178.5 715.5 C179.5 717.5 181 718.5 183 717 C185 715 186 712.5 188.5 712.2 C191 712.2 191.5 715 190.5 717 C189.5 718.8 187 718.5 186.5 716.5 C187.5 718.5 190 719.5 192.5 717.8 C194.5 716 196 713.5 198.5 713 C200.5 712.8 201 714.5 199.5 715.8 C198.5 716.5 197.5 716.8 198.5 717 C201.5 716.5 204 715 206 713.8 C207.5 713 209 713.2 210.2 714.3"/>
<path d="M210.2 714.3 C209 716.5 208 718.5 207.5 721 C205.5 724 205 728 206 731 C207 733 210 733.2 211.2 731 C212.3 728.5 211.5 724 209.5 721.5"/>
</g></svg>
</body></html>
